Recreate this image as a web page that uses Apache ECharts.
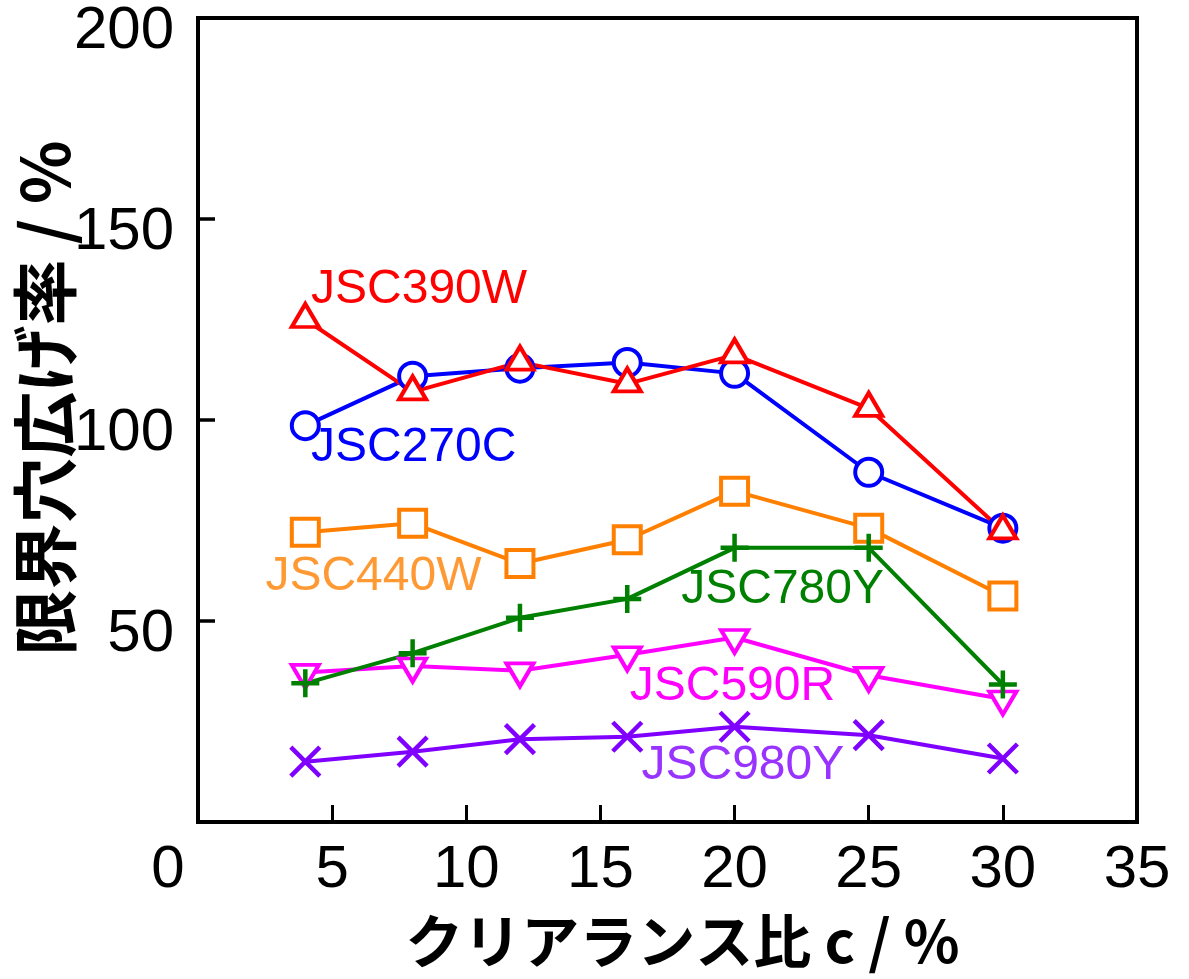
<!DOCTYPE html>
<html>
<head>
<meta charset="utf-8">
<script src="https://cdn.jsdelivr.net/npm/echarts@6.0.0/dist/echarts.min.js"></script>
<style>
html, body { margin: 0; padding: 0; background: #fff; }
#chart { width: 1189px; height: 979px; }
</style>
</head>
<body>
<div id="chart"></div>
<script>
// クリアランス比 c / %
var clearance = [4, 8, 12, 16, 20, 25, 30];
// 限界穴広げ率 / %
var jsc270c = [98.6, 110.9, 112.9, 114.3, 111.6, 87.0, 73.1];
var jsc390w = [125.0, 107.0, 114.4, 109.0, 116.2, 102.9, 72.4];
var jsc440w = [72.1, 74.3, 64.3, 70.2, 82.3, 73.1, 56.2];
var jsc590r = [37.2, 38.8, 37.6, 41.6, 45.9, 36.5, 30.6];
var jsc780y = [34.5, 42.0, 50.8, 55.5, 68.2, 68.2, 34.2];
var jsc980y = [15.0, 17.5, 20.6, 21.2, 23.7, 21.6, 15.8];

var seriesNames = ['JSC270C', 'JSC390W', 'JSC440W', 'JSC590R', 'JSC780Y', 'JSC980Y'];
var xTicks = [0, 5, 10, 15, 20, 25, 30, 35];
var yTicks = [0, 50, 100, 150, 200];

var numFont = "'Liberation Sans', Arial, sans-serif";
var labelFont = "'Liberation Sans', Arial, sans-serif";
var jpFont = "'Noto Sans CJK JP', 'Noto Sans CJK SC', sans-serif";

function pairs(ys) {
    var out = [];
    for (var i = 0; i < clearance.length; i++) {
        out.push([clearance[i], ys[i]]);
    }
    return out;
}

// 系列ごとのラベル（データ座標で置く）
function tag(text, coord, color) {
    return {
        symbol: 'circle',
        symbolSize: 0,
        silent: true,
        itemStyle: { color: 'transparent' },
        label: {
            show: true,
            position: 'inside',
            formatter: text,
            color: color,
            fontSize: 48,
            fontFamily: labelFont
        },
        data: [{ coord: coord }]
    };
}

function makeSeries(name, ys, color, symbol, size, offset, bw, tagText, tagCoord, tagColor) {
    return {
        name: name,
        type: 'line',
        data: pairs(ys),
        symbol: symbol,
        symbolSize: size,
        symbolOffset: offset,
        showAllSymbol: true,
        lineStyle: { color: color, width: 4 },
        itemStyle: { color: '#fff', borderColor: color, borderWidth: bw },
        emphasis: { disabled: true },
        markPoint: tag(tagText, tagCoord, tagColor),
        animation: false
    };
}

var chart = echarts.init(document.getElementById('chart'));

var option = {
    backgroundColor: '#fff',
    animation: false,
    grid: {
        left: 198,
        right: 52,
        top: 18,
        bottom: 157,
        show: true,
        borderColor: '#000',
        borderWidth: 4,
        backgroundColor: 'transparent',
        containLabel: false,
        outerBoundsMode: 'none'
    },
    xAxis: {
        type: 'value',
        min: xTicks[0],
        max: xTicks[xTicks.length - 1],
        interval: 5,
        name: 'クリアランス比 c / %',
        nameLocation: 'middle',
        nameGap: 90,
        nameMoveOverlap: false,
        nameTextStyle: { fontSize: 58, fontWeight: 'bold', color: '#000', fontFamily: jpFont, padding: [0, 0, 0, 30] },
        axisLine: { show: false },
        axisTick: { show: true, inside: true, length: 17, lineStyle: { color: '#000', width: 3 } },
        splitLine: { show: false },
        axisLabel: {
            show: true,
            showMinLabel: true,
            showMaxLabel: true,
            margin: 18,
            color: '#000',
            fontSize: 60,
            fontFamily: numFont,
            formatter: function (v) {
                return v === 0 ? '{z|0}' : String(v);
            },
            rich: {
                z: { fontSize: 60, fontFamily: numFont, color: '#000', padding: [0, 60, 0, 0] }
            }
        }
    },
    yAxis: {
        type: 'value',
        min: yTicks[0],
        max: yTicks[yTicks.length - 1],
        interval: 50,
        name: '限界穴広げ率 / %',
        nameLocation: 'middle',
        nameRotate: 90,
        nameGap: 120,
        nameMoveOverlap: false,
        nameTextStyle: { fontSize: 66, fontWeight: 'bold', color: '#000', fontFamily: jpFont, padding: [0, 0, 0, 44] },
        axisLine: { show: false },
        axisTick: { show: true, inside: true, length: 17, lineStyle: { color: '#000', width: 3.5 } },
        splitLine: { show: false },
        axisLabel: {
            show: true,
            showMinLabel: true,
            showMaxLabel: true,
            margin: 24,
            color: '#000',
            fontSize: 60,
            fontFamily: numFont,
            formatter: function (v) {
                return v === 0 ? '' : '{n|' + v + '}';
            },
            rich: {
                n: { fontSize: 60, fontFamily: numFont, color: '#000', padding: [26, 0, 0, 0] }
            }
        }
    },
    series: [
        makeSeries(seriesNames[0], jsc270c, '#0000ff', 'circle', 27, [0, 0], 4,
            'JSC270C', [8.04, 93.2], '#0000ff'),
        makeSeries(seriesNames[1], jsc390w, '#ff0000', 'triangle', [27, 23], [0, -4], 4,
            'JSC390W', [8.24, 132.5], '#ff0000'),
        makeSeries(seriesNames[2], jsc440w, '#ff8000', 'rect', 27, [0, 0], 4,
            'JSC440W', [6.54, 61.1], '#ff9933'),
        makeSeries(seriesNames[3], jsc590r, '#ff00ff', 'path://M0,0 L2,0 L1,1.7 Z', [27, 23], [0, 4], 4,
            'JSC590R', [19.92, 33.6], '#ff00ff'),
        makeSeries(seriesNames[4], jsc780y, '#008000', 'path://M1,0 L1,2 M0,1 L2,1', 28, [0, 0], 4.5,
            'JSC780Y', [21.79, 57.8], '#008000'),
        makeSeries(seriesNames[5], jsc980y, '#7f00ff', 'path://M0,0 L2,2 M0,2 L2,0', 29, [0, 0], 4.5,
            'JSC980Y', [20.31, 13.9], '#9933ff')
    ]
};

chart.setOption(option);
</script>
</body>
</html>
